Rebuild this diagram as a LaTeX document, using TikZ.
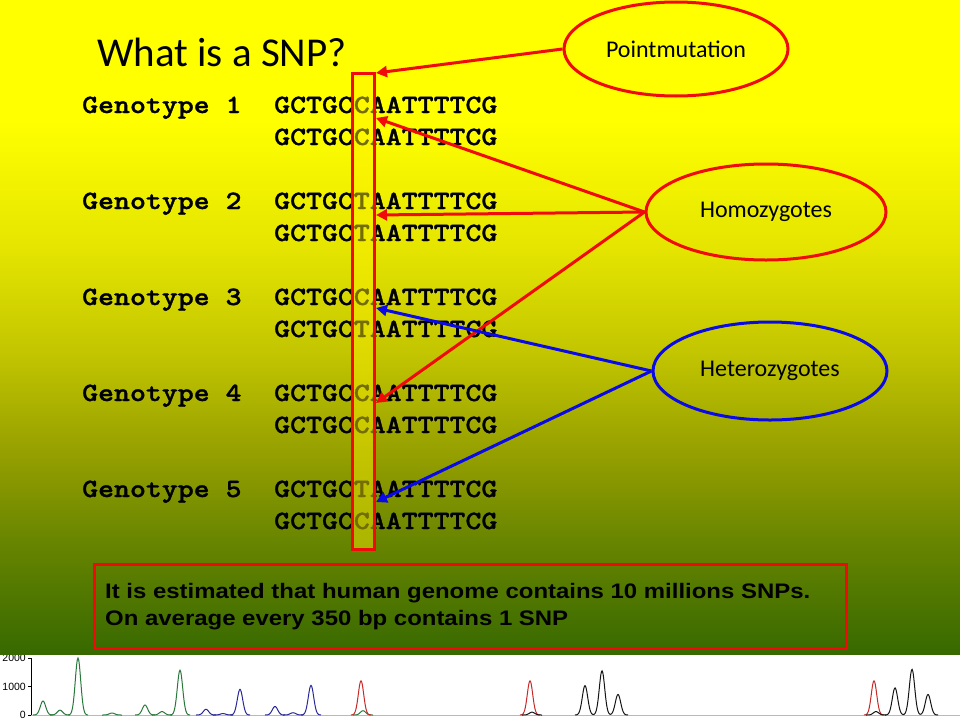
\documentclass[tikz,border=0pt]{standalone}
\usepackage{fontspec}
\setmainfont{Carlito}
\newfontfamily\notefont[FakeStretch=1.14]{Liberation Sans}
\newfontfamily\seqfont[FakeStretch=1.15,FakeBold=1.2]{lmmonolt10-bold.otf}
\newfontfamily\axisfont{Liberation Sans}
\usetikzlibrary{arrows.meta,shapes.geometric}

\definecolor{slidered}{RGB}{240,10,10}
\definecolor{slideblue}{RGB}{10,10,230}
\definecolor{tracegreen}{RGB}{40,120,60}
\definecolor{traceblue}{RGB}{40,40,150}
\definecolor{tracered}{RGB}{200,40,40}
\definecolor{traceblack}{RGB}{20,20,20}

% yellow to green slide background
\pgfdeclareverticalshading{slidebg}{100bp}{rgb(0bp)=(0.216,0.412,0); rgb(25bp)=(0.216,0.412,0);
  rgb(32.82bp)=(0.39,0.51,0); rgb(40.49bp)=(0.588,0.627,0); rgb(48.16bp)=(0.765,0.776,0);
  rgb(55.83bp)=(0.894,0.894,0); rgb(65.8bp)=(1,1,0); rgb(100bp)=(1,1,0)}

\begin{document}
\begin{tikzpicture}[x=1pt,y=-1pt,
    bubble/.style={ellipse, draw, line width=3pt, inner sep=0pt, font=\fontsize{24}{28}\selectfont},
    pointer/.style={line width=3pt, -{Triangle[length=11pt,width=11pt]}},
    seq/.style={anchor=base west, inner sep=0pt, font=\seqfont\fontsize{26.4}{30}\selectfont},
    notetext/.style={anchor=base west, inner sep=0pt, font=\notefont\bfseries\fontsize{21}{25}\selectfont},
    trace/.style={line width=1pt}]

    % --- Definitions for Proportions ---
    \def\rowgap{96}     % distance between two genotypes
    \def\pairgap{32}    % distance between the two strands
    \def\zero{715}      % baseline of the trace
    \def\unit{28.5}     % pixels per 1000 counts
    \def\pkw{2.7}       % width of one peak

    \useasboundingbox (0,0) rectangle (960,720);

    % --- Trace at the bottom ---
    \draw[gray!50!green!60] (31,\zero) -- (960,\zero);
    \draw (31,658) -- (31,\zero);
    \foreach \v/\y in {2000/658,1000/686.5,0/715} {
        \draw (28,\y) -- (31,\y);
        \node[anchor=east, inner sep=0pt, font=\axisfont\fontsize{10.5}{12}\selectfont] (tick\v) at (26,\y) {\v};
    }
    \foreach \c/\p/\h in {tracegreen/43/0.49, tracegreen/60/0.17, tracegreen/78/2.0, tracegreen/112/0.07,
        tracegreen/145/0.35, tracegreen/162/0.12, tracegreen/180/1.57, tracegreen/363/0.15,
        traceblue/206/0.2, traceblue/223/0.05, traceblue/240/0.9, traceblue/275/0.3,
        traceblue/293/0.08, traceblue/311/1.04,
        tracered/361/1.2, tracered/530/1.2, tracered/874/1.2,
        traceblack/532/0.1, traceblack/876/0.12} {
        \draw[trace, \c] plot[variable=\t, domain=\p-10:\p+10, samples=31, smooth]
            (\t, {\zero-\h*\unit*exp(-((\t-\p)^2)/(2*\pkw*\pkw))});
    }
    % black triplets
    \foreach \a/\b/\d/\ha/\hb/\hd in {585/602/618/1.03/1.55/0.72, 895/912/928/0.95/1.6/0.72} {
        \draw[trace, traceblack] plot[variable=\t, domain=\a-10:\d+10, samples=91, smooth]
            (\t, {\zero-\unit*(\ha*exp(-((\t-\a)^2)/(2*\pkw*\pkw))+\hb*exp(-((\t-\b)^2)/(2*\pkw*\pkw))+\hd*exp(-((\t-\d)^2)/(2*\pkw*\pkw)))});
    }

    % --- Background ---
    \shade[shading=slidebg] (0,0) rectangle (960,654);

    % --- Title ---
    \node[anchor=base west, inner sep=0pt, font=\fontsize{41}{48}\selectfont] (title) at (97,66) {What is a SNP?};

    % --- Genotypes ---
    \foreach \n/\sa/\sb in {1/GCTGCCAATTTTCG/GCTGCCAATTTTCG, 2/GCTGCTAATTTTCG/GCTGCTAATTTTCG,
        3/GCTGCCAATTTTCG/GCTGCTAATTTTCG, 4/GCTGCCAATTTTCG/GCTGCCAATTTTCG,
        5/GCTGCTAATTTTCG/GCTGCCAATTTTCG} {
        \pgfmathsetmacro\rowy{113+\rowgap*(\n-1)}
        \node[seq] (geno\n) at (82,\rowy) {Genotype \n};
        \node[seq] (seqa\n) at (274,\rowy) {\sa};
        \node[seq] (seqb\n) at (274,\rowy+\pairgap) {\sb};
    }

    % --- SNP column ---
    \node[draw=slidered, line width=3pt, fill=yellow, fill opacity=0.45, draw opacity=1,
        minimum width=22pt, minimum height=476pt, inner sep=0pt] (snp) at (363,311) {};
    \coordinate (tip0) at (376,73);
    \coordinate (tip1) at (376,118);
    \coordinate (tip2) at (376,215);
    \coordinate (tip3) at (376,308);
    \coordinate (tip4) at (376,403);
    \coordinate (tip5) at (376,502);

    % --- Labels ---
    \node[bubble, draw=slidered, minimum width=224pt, minimum height=94pt] (pm) at (676,49) {Pointmutation};
    \node[bubble, draw=slidered, minimum width=240pt, minimum height=96pt] (homo) at (766,212) {Homozygotes};
    \node[bubble, draw=slideblue, minimum width=234pt, minimum height=98pt] (hetero) at (770,371) {Heterozygotes};

    % --- Arrows ---
    \draw[pointer, slidered] (pm.west) -- (tip0);
    \foreach \k in {1,2,4} \draw[pointer, slidered] (homo.west) -- (tip\k);
    \foreach \k in {3,5} \draw[pointer, slideblue] (hetero.west) -- (tip\k);

    % --- Note ---
    \node[draw=slidered, line width=3pt, minimum width=752pt, minimum height=84pt, inner sep=0pt,
        anchor=north west] (note) at (93,563) {};
    \node[notetext] (line1) at (105,598) {It is estimated that human genome contains 10 millions SNPs.};
    \node[notetext] (line2) at (105,625) {On average every 350 bp contains 1 SNP};

\end{tikzpicture}
\end{document}
